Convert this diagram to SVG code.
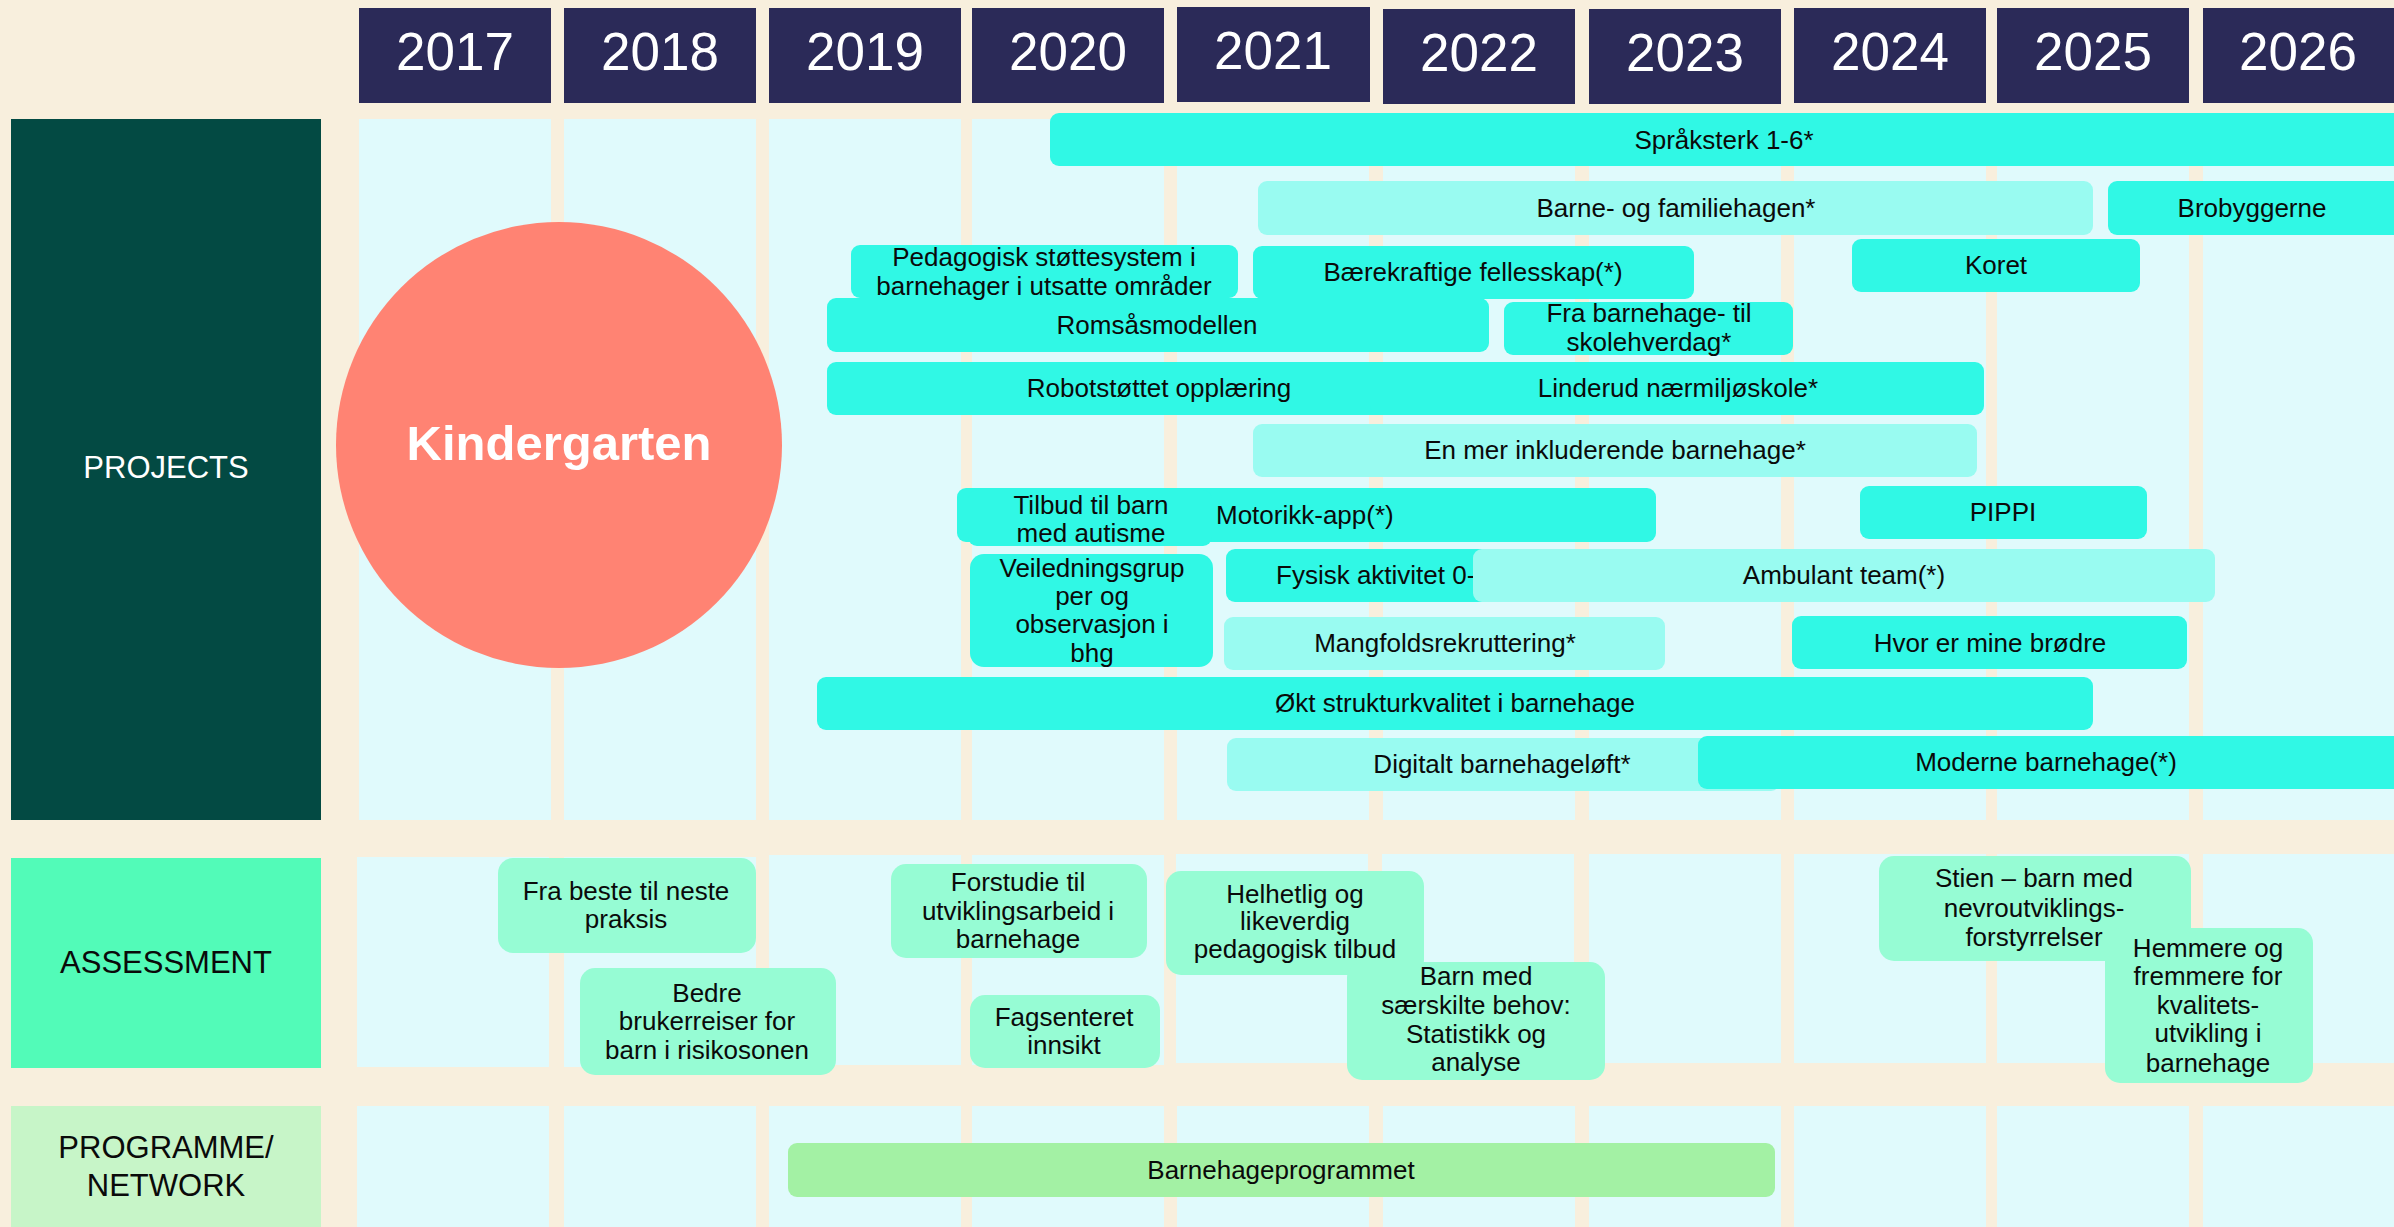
<svg xmlns="http://www.w3.org/2000/svg" width="2394" height="1227" viewBox="0 0 2394 1227">
<style>
text{font-family:"Liberation Sans",Arial,sans-serif;fill:#0a0a0a;font-size:26px;text-anchor:middle}
.yr{fill:#2B2A58}
.yt{fill:#fff;font-size:53px}
.col{fill:#E0FAFC}
.b{fill:#30F8E5}
.p{fill:#99FBF1}
.m{fill:#96FCD4}
.g{fill:#A3F1A4}
.lab{font-size:31px}
</style>
<rect width="2394" height="1227" fill="#F8EFDD"/>
<g id="columns">
<rect class="col" x="359" y="119" width="192" height="701"/>
<rect class="col" x="564" y="119" width="192" height="701"/>
<rect class="col" x="769" y="119" width="192" height="701"/>
<rect class="col" x="972" y="119" width="192" height="701"/>
<rect class="col" x="1177" y="119" width="192" height="701"/>
<rect class="col" x="1383" y="119" width="192" height="701"/>
<rect class="col" x="1589" y="119" width="192" height="701"/>
<rect class="col" x="1794" y="119" width="192" height="701"/>
<rect class="col" x="1997" y="119" width="192" height="701"/>
<rect class="col" x="2203" y="119" width="191" height="701"/>
<rect class="col" x="357" y="857" width="192" height="210"/>
<rect class="col" x="564" y="857" width="192" height="210"/>
<rect class="col" x="769" y="855" width="192" height="210"/>
<rect class="col" x="972" y="855" width="192" height="210"/>
<rect class="col" x="1176" y="854" width="192" height="209"/>
<rect class="col" x="1382" y="854" width="192" height="209"/>
<rect class="col" x="1589" y="854" width="192" height="209"/>
<rect class="col" x="1794" y="854" width="192" height="209"/>
<rect class="col" x="1997" y="854" width="192" height="209"/>
<rect class="col" x="2203" y="854" width="191" height="209"/>
<rect class="col" x="357" y="1106" width="192" height="121"/>
<rect class="col" x="564" y="1106" width="192" height="121"/>
<rect class="col" x="769" y="1106" width="192" height="121"/>
<rect class="col" x="972" y="1106" width="192" height="121"/>
<rect class="col" x="1177" y="1106" width="192" height="121"/>
<rect class="col" x="1383" y="1106" width="192" height="121"/>
<rect class="col" x="1589" y="1106" width="192" height="121"/>
<rect class="col" x="1794" y="1106" width="192" height="121"/>
<rect class="col" x="1997" y="1106" width="192" height="121"/>
<rect class="col" x="2203" y="1106" width="191" height="121"/>
</g>
<g id="years">
<g id="y2017"><rect class="yr" x="359" y="8" width="192" height="95"/><text class="yt" x="455" y="70">2017</text></g>
<g id="y2018"><rect class="yr" x="564" y="8" width="192" height="95"/><text class="yt" x="660" y="70">2018</text></g>
<g id="y2019"><rect class="yr" x="769" y="8" width="192" height="95"/><text class="yt" x="865" y="70">2019</text></g>
<g id="y2020"><rect class="yr" x="972" y="8" width="192" height="95"/><text class="yt" x="1068" y="70">2020</text></g>
<g id="y2021"><rect class="yr" x="1177" y="7" width="193" height="95"/><text class="yt" x="1273" y="69">2021</text></g>
<g id="y2022"><rect class="yr" x="1383" y="9" width="192" height="95"/><text class="yt" x="1479" y="71">2022</text></g>
<g id="y2023"><rect class="yr" x="1589" y="9" width="192" height="95"/><text class="yt" x="1685" y="71">2023</text></g>
<g id="y2024"><rect class="yr" x="1794" y="8" width="192" height="95"/><text class="yt" x="1890" y="70">2024</text></g>
<g id="y2025"><rect class="yr" x="1997" y="8" width="192" height="95"/><text class="yt" x="2093" y="70">2025</text></g>
<g id="y2026"><rect class="yr" x="2203" y="8" width="191" height="95"/><text class="yt" x="2298" y="70">2026</text></g>
</g>
<g id="label-projects"><rect x="11" y="119" width="310" height="701" fill="#034A43"/><text class="lab" x="166" y="478" style="fill:#fff">PROJECTS</text></g>
<g id="label-assessment"><rect x="11" y="858" width="310" height="210" fill="#52FBB8"/><text class="lab" x="166" y="973">ASSESSMENT</text></g>
<g id="label-programme"><rect x="11" y="1106" width="310" height="121" fill="#C7F5C8"/><text class="lab" x="166" y="1158">PROGRAMME/</text><text class="lab" x="166" y="1196">NETWORK</text></g>
<g id="kindergarten"><circle cx="559" cy="445" r="223" fill="#FF8373"/><text x="559" y="460" style="fill:#fff;font-size:49px;font-weight:bold">Kindergarten</text></g>
<g id="projects">
<g id="sprak"><rect class="b" x="1050" y="113" width="1360" height="53" rx="9"/><text x="1724" y="149">Språksterk 1-6*</text></g>
<g id="barne-familie"><rect class="p" x="1258" y="181" width="835" height="54" rx="9"/><text x="1676" y="217">Barne- og familiehagen*</text></g>
<g id="brobyggerne"><rect class="b" x="2108" y="181" width="300" height="54" rx="9"/><text x="2252" y="217">Brobyggerne</text></g>
<g id="koret"><rect class="b" x="1852" y="239" width="288" height="53" rx="9"/><text x="1996" y="274">Koret</text></g>
<g id="baerekraftige"><rect class="b" x="1253" y="246" width="441" height="53" rx="9"/><text x="1473" y="281">Bærekraftige fellesskap(*)</text></g>
<g id="romsas"><rect class="b" x="827" y="298" width="662" height="54" rx="9"/><text x="1157" y="334">Romsåsmodellen</text></g>
<g id="pedagogisk"><rect class="b" x="851" y="245" width="387" height="53" rx="9"/><text x="1044" y="266">Pedagogisk støttesystem i</text><text x="1044" y="295">barnehager i utsatte områder</text></g>
<g id="fra-barnehage"><rect class="b" x="1504" y="302" width="289" height="53" rx="9"/><text x="1649" y="322">Fra barnehage- til</text><text x="1649" y="351">skolehverdag*</text></g>
<g id="robot"><rect class="b" x="827" y="362" width="663" height="53" rx="9"/><text x="1159" y="397">Robotstøttet opplæring</text></g>
<g id="linderud"><rect class="b" x="1370" y="362" width="614" height="53" rx="9"/><text x="1678" y="397">Linderud nærmiljøskole*</text></g>
<g id="inkluderende"><rect class="p" x="1253" y="424" width="724" height="53" rx="9"/><text x="1615" y="459">En mer inkluderende barnehage*</text></g>
<g id="motorikk"><rect class="b" x="957" y="488" width="699" height="54" rx="9"/><text x="1216" y="524" style="text-anchor:start">Motorikk-app(*)</text></g>
<g id="tilbud"><rect class="b" x="968" y="490" width="244" height="56" rx="9"/><text x="1091" y="514">Tilbud til barn</text><text x="1091" y="542">med autisme</text></g>
<g id="pippi"><rect class="b" x="1860" y="486" width="287" height="53" rx="9"/><text x="2003" y="521">PIPPI</text></g>
<g id="veiledning"><rect class="b" x="970" y="554" width="243" height="113" rx="14"/><text x="1092" y="577">Veiledningsgrup</text><text x="1092" y="605">per og</text><text x="1092" y="633">observasjon i</text><text x="1092" y="662">bhg</text></g>
<g id="fysisk"><rect class="b" x="1226" y="549" width="300" height="53" rx="9"/><text x="1276" y="584" style="text-anchor:start">Fysisk aktivitet 0-</text></g>
<g id="ambulant"><rect class="p" x="1473" y="549" width="742" height="53" rx="9"/><text x="1844" y="584">Ambulant team(*)</text></g>
<g id="mangfold"><rect class="p" x="1224" y="617" width="441" height="53" rx="9"/><text x="1445" y="652">Mangfoldsrekruttering*</text></g>
<g id="hvor"><rect class="b" x="1792" y="616" width="395" height="53" rx="9"/><text x="1990" y="652">Hvor er mine brødre</text></g>
<g id="okt"><rect class="b" x="817" y="677" width="1276" height="53" rx="9"/><text x="1455" y="712">Økt strukturkvalitet i barnehage</text></g>
<g id="digitalt"><rect class="p" x="1227" y="738" width="553" height="53" rx="9"/><text x="1502" y="773">Digitalt barnehageløft*</text></g>
<g id="moderne"><rect class="b" x="1698" y="736" width="712" height="53" rx="9"/><text x="2046" y="771">Moderne barnehage(*)</text></g>
</g>
<g id="assessment">
<g id="fra-beste"><rect class="m" x="498" y="858" width="258" height="95" rx="15"/><text x="626" y="900">Fra beste til neste</text><text x="626" y="928">praksis</text></g>
<g id="bedre"><rect class="m" x="580" y="968" width="256" height="107" rx="15"/><text x="707" y="1002">Bedre</text><text x="707" y="1030">brukerreiser for</text><text x="707" y="1059">barn i risikosonen</text></g>
<g id="forstudie"><rect class="m" x="891" y="864" width="256" height="94" rx="15"/><text x="1018" y="891">Forstudie til</text><text x="1018" y="920">utviklingsarbeid i</text><text x="1018" y="948">barnehage</text></g>
<g id="fagsenteret"><rect class="m" x="970" y="995" width="190" height="73" rx="15"/><text x="1064" y="1026">Fagsenteret</text><text x="1064" y="1054">innsikt</text></g>
<g id="helhetlig"><rect class="m" x="1166" y="871" width="258" height="104" rx="15"/><text x="1295" y="903">Helhetlig og</text><text x="1295" y="930">likeverdig</text><text x="1295" y="958">pedagogisk tilbud</text></g>
<g id="barn-med"><rect class="m" x="1347" y="962" width="258" height="118" rx="15"/><text x="1476" y="985">Barn med</text><text x="1476" y="1014">særskilte behov:</text><text x="1476" y="1043">Statistikk og</text><text x="1476" y="1071">analyse</text></g>
<g id="stien"><rect class="m" x="1879" y="856" width="312" height="105" rx="15"/><text x="2034" y="887">Stien – barn med</text><text x="2034" y="917">nevroutviklings-</text><text x="2034" y="946">forstyrrelser</text></g>
<g id="hemmere"><rect class="m" x="2105" y="928" width="208" height="155" rx="15"/><text x="2208" y="957">Hemmere og</text><text x="2208" y="985">fremmere for</text><text x="2208" y="1014">kvalitets-</text><text x="2208" y="1042">utvikling i</text><text x="2208" y="1072">barnehage</text></g>
</g>
<g id="programme">
<g id="barnehageprogrammet"><rect class="g" x="788" y="1143" width="987" height="54" rx="9"/><text x="1281" y="1179">Barnehageprogrammet</text></g>
</g>
</svg>
